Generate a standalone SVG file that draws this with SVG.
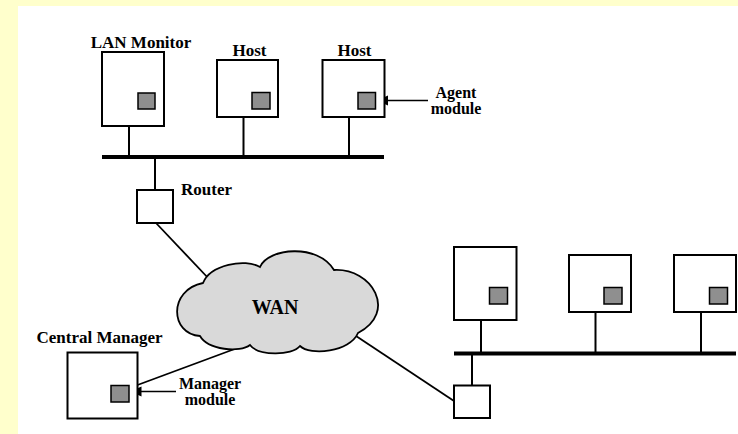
<svg xmlns="http://www.w3.org/2000/svg" width="738" height="434" viewBox="0 0 738 434">
<defs>
<style>
.bg{fill:#FFFFCC}
.box{fill:#fff;stroke:#000;stroke-width:2}
.mod{fill:#8F8F8F;stroke:#000;stroke-width:1.5}
.stub{stroke:#000;stroke-width:2;fill:none}
.bus{stroke:#000;stroke-width:4;fill:none}
.link{stroke:#000;stroke-width:1.8;fill:none}
.ptr{stroke:#000;stroke-width:1.3;fill:none}
.head{fill:#000;stroke:none}
.lbl{font-family:"Liberation Serif","Times New Roman",serif;font-weight:bold;font-size:17px;fill:#000}
.lbl2{font-size:16px}
.cloud{fill:#D9D9D9;stroke:#000;stroke-width:1.8}
</style>
</defs>
<rect x="0" y="0" width="738" height="434" fill="#fff"/>
<rect class="bg" x="0" y="0" width="738" height="6"/>
<rect class="bg" x="0" y="0" width="18" height="434"/>

<g id="connectors">
<line class="bus" x1="102" y1="157" x2="384" y2="157"/>
<line class="stub" x1="129" y1="126" x2="129" y2="157"/>
<line class="stub" x1="243.5" y1="117" x2="243.5" y2="157"/>
<line class="stub" x1="349" y1="117" x2="349" y2="157"/>
<line class="stub" x1="155" y1="157" x2="155" y2="190"/>
<line class="link" x1="156" y1="223" x2="210" y2="280"/>
<line class="link" x1="137.5" y1="385" x2="240" y2="347"/>
<line class="link" x1="350" y1="332" x2="454" y2="401"/>
<line class="bus" x1="454" y1="353.5" x2="736" y2="353.5"/>
<line class="stub" x1="481" y1="320" x2="481" y2="353.5"/>
<line class="stub" x1="595.5" y1="312" x2="595.5" y2="353.5"/>
<line class="stub" x1="701" y1="312" x2="701" y2="353.5"/>
<line class="stub" x1="472" y1="353.5" x2="472" y2="385.5"/>
<line class="ptr" x1="428" y1="100.5" x2="386" y2="100.5"/>
<path class="head" d="M376.5,100.5 L388,95.5 L388,105.5 Z"/>
<line class="ptr" x1="176" y1="391.5" x2="140" y2="391.5"/>
<path class="head" d="M130,391.5 L141.5,386.5 L141.5,396.5 Z"/>
</g>

<g id="lan-monitor">
<rect class="box" x="102" y="52" width="62" height="74"/>
<rect class="mod" x="138" y="93" width="17" height="16"/>
<text class="lbl" x="141" y="48" text-anchor="middle">LAN Monitor</text>
</g>
<g id="host1">
<rect class="box" x="217" y="60" width="61" height="57"/>
<rect class="mod" x="252" y="92.5" width="18" height="16.5"/>
<text class="lbl" x="249.5" y="55.5" text-anchor="middle">Host</text>
</g>
<g id="host2">
<rect class="box" x="322.5" y="60" width="62" height="57"/>
<rect class="mod" x="358" y="92.5" width="17.5" height="16.5"/>
<text class="lbl" x="354.5" y="55.5" text-anchor="middle">Host</text>
</g>
<g id="agent-label">
<text class="lbl lbl2" x="456" y="98" text-anchor="middle">Agent</text>
<text class="lbl lbl2" x="456" y="114" text-anchor="middle">module</text>
</g>
<g id="router">
<rect class="box" x="137" y="190" width="36" height="33"/>
<text class="lbl" x="181" y="195">Router</text>
</g>
<g id="wan">
<path class="cloud" d="M203,283 C210,265 245,258 260,267 C268,248 318,243 334,270 C372,268 398,312 358,333 C350,352 310,356 300,346 C292,356 258,356 250,345 C240,353 208,350 200,336 C170,334 168,290 203,283 Z"/>
<text class="lbl" x="275" y="314" text-anchor="middle" style="font-size:20px">WAN</text>
</g>
<g id="central-manager">
<rect class="box" x="67.5" y="352.5" width="70" height="66"/>
<rect class="mod" x="111" y="385.5" width="18" height="16.5"/>
<text class="lbl" x="99.5" y="343" text-anchor="middle">Central Manager</text>
</g>
<g id="manager-label">
<text class="lbl lbl2" x="210" y="389" text-anchor="middle">Manager</text>
<text class="lbl lbl2" x="210" y="405" text-anchor="middle">module</text>
</g>
<g id="host3">
<rect class="box" x="454" y="247" width="62.5" height="73"/>
<rect class="mod" x="489.5" y="287.5" width="18" height="16.5"/>
</g>
<g id="host4">
<rect class="box" x="569" y="255" width="62" height="57"/>
<rect class="mod" x="604" y="287.5" width="18" height="16.5"/>
</g>
<g id="host5">
<rect class="box" x="674" y="255" width="62" height="57"/>
<rect class="mod" x="709.5" y="287.5" width="18" height="16.5"/>
</g>
<g id="router2">
<rect class="box" x="454" y="385.5" width="36" height="32.5"/>
</g>
</svg>
